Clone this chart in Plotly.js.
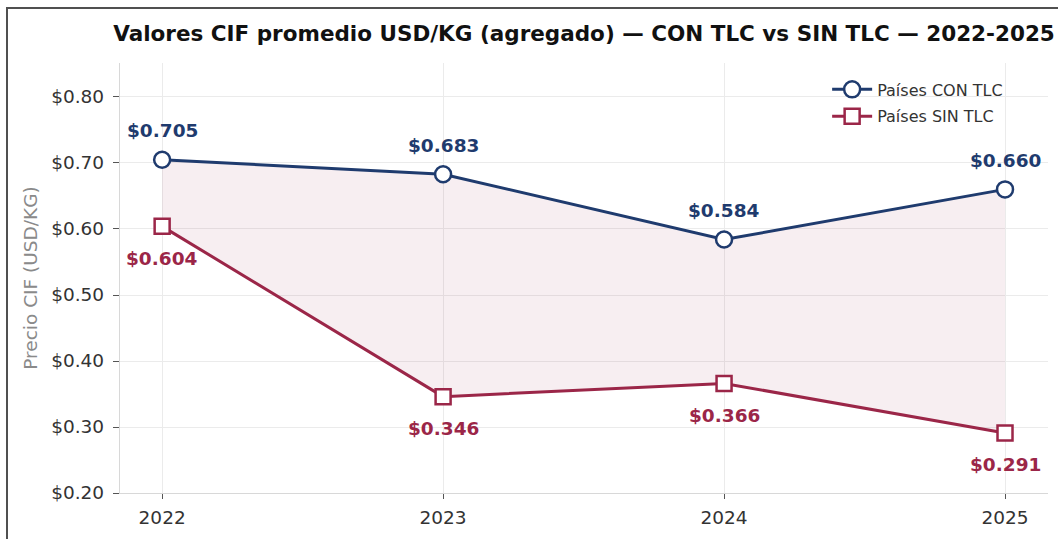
<!DOCTYPE html>
<html>
<head>
<meta charset="utf-8">
<script src="https://cdn.plot.ly/plotly-3.0.1.min.js"></script>
<style>
html,body{margin:0;padding:0;background:#fff;overflow:hidden;}
#frame{position:absolute;left:6px;top:7px;width:1200px;height:700px;border:2.5px solid #505050;box-sizing:border-box;}
#chart{position:absolute;left:0;top:0;width:1058px;height:539px;}
</style>
</head>
<body>
<div id="frame"></div>
<div id="chart"></div>
<script>
const years = [2022, 2023, 2024, 2025];
const conTLC = [0.705, 0.683, 0.584, 0.660];
const sinTLC = [0.604, 0.346, 0.366, 0.291];
const yTicks = [0.20, 0.30, 0.40, 0.50, 0.60, 0.70, 0.80];
const yTickText = yTicks.map(v => '$' + v.toFixed(2));

const navy = '#1f3b6e';
const maroon = '#9b2648';
const font = 'DejaVu Sans, sans-serif';

const traces = [
  {x: years, y: sinTLC, mode: 'lines', line: {width: 0}, showlegend: false, hoverinfo: 'skip', legendgroup: 'f'},
  {x: years, y: conTLC, mode: 'lines', line: {width: 0}, fill: 'tonexty', fillcolor: 'rgba(155,38,72,0.08)', showlegend: false, hoverinfo: 'skip', legendgroup: 'f'},
  {x: years, y: conTLC, mode: 'lines+markers', name: 'Países CON TLC', legendgroup: 'a',
   line: {color: navy, width: 3},
   marker: {symbol: 'circle', size: 16, color: '#fff', line: {color: navy, width: 2.5}}},
  {x: years, y: sinTLC, mode: 'lines+markers', name: 'Países SIN TLC', legendgroup: 'b',
   line: {color: maroon, width: 3},
   marker: {symbol: 'square', size: 15, color: '#fff', line: {color: maroon, width: 2.5}}}
];

const annotations = [];
years.forEach((yr, i) => {
  annotations.push({x: yr, y: conTLC[i], text: '$' + conTLC[i].toFixed(3), showarrow: false,
    yshift: 29, font: {family: font, size: 18.5, color: navy, weight: 'bold'}});
  annotations.push({x: yr, y: sinTLC[i], text: '$' + sinTLC[i].toFixed(3), showarrow: false,
    yshift: -32, font: {family: font, size: 18.5, color: maroon, weight: 'bold'}});
});

const layout = {
  width: 1058, height: 539,
  margin: {l: 120, r: 10, t: 63, b: 46},
  paper_bgcolor: 'rgba(0,0,0,0)',
  plot_bgcolor: 'rgba(0,0,0,0)',
  font: {family: font, color: '#333'},
  title: {text: '<b>Valores CIF promedio USD/KG (agregado) — CON TLC vs SIN TLC — 2022-2025</b>',
    font: {family: font, size: 21.5, color: '#111'}, x: 0.552, xanchor: 'center', y: 0.938, yanchor: 'middle', yref: 'container'},
  xaxis: {range: [2021.85, 2025.153], tickvals: years, ticktext: years.map(String),
    showgrid: true, gridcolor: '#ebebeb', gridwidth: 1, zeroline: false,
    showline: true, linecolor: '#d8d8d8', linewidth: 1.2, ticklabelstandoff: 3,
    ticks: 'outside', ticklen: 5, tickcolor: '#555', tickfont: {size: 18.5, color: '#333'}},
  yaxis: {range: [0.20, 0.8515], tickvals: yTicks, ticktext: yTickText,
    showgrid: true, gridcolor: '#ebebeb', gridwidth: 1, zeroline: false,
    showline: true, linecolor: '#d8d8d8', linewidth: 1.2, ticklabelstandoff: 5,
    ticks: 'outside', ticklen: 6, tickcolor: '#555', tickfont: {size: 18.5, color: '#333'},
    title: {text: 'Precio CIF (USD/KG)', font: {size: 18.5, color: '#8a8a8a'}, standoff: 8}},
  legend: {x: 0.762, y: 0.978, xanchor: 'left', yanchor: 'top', bgcolor: 'rgba(0,0,0,0)',
    font: {size: 16, color: '#333'}, traceorder: 'grouped', tracegroupgap: 3, itemwidth: 40},
  annotations: annotations,
  showlegend: true
};

Plotly.newPlot('chart', traces, layout, {displayModeBar: false, staticPlot: true});
</script>
</body>
</html>
